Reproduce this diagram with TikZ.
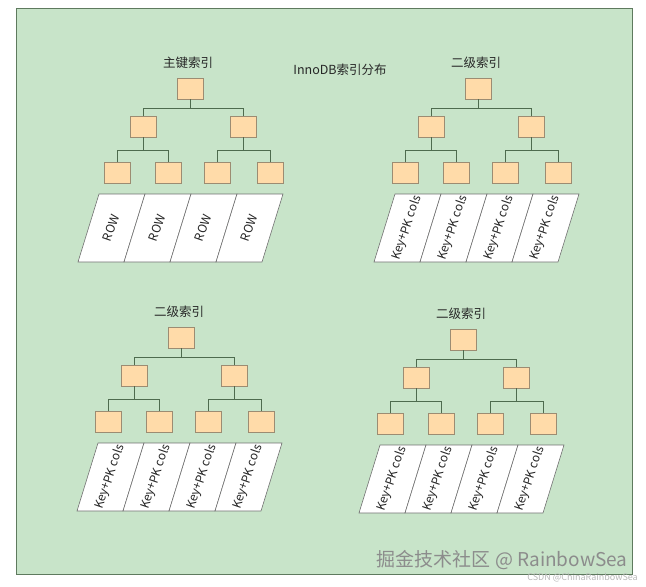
\documentclass[tikz,border=0pt]{standalone}
\usepackage{fontspec}
\setmainfont{Noto Sans CJK SC}
\usepackage{tikz}

\definecolor{bggreen}{HTML}{C8E4C9}
\definecolor{bgline}{HTML}{5E7A5E}
\definecolor{pagefill}{HTML}{FFDBA9}
\definecolor{pageline}{HTML}{9C8C72}
\definecolor{linkgreen}{HTML}{4E6B4E}
\definecolor{rowline}{HTML}{707070}

\tikzset{
  page/.style={draw=pageline,fill=pagefill,line width=0.8pt,minimum width=26pt,minimum height=21pt,inner sep=0pt},
  link/.style={draw=linkgreen,line width=0.9pt},
  cellrow/.style={draw=rowline,fill=white,line width=0.6pt},
  celltxt/.style={rotate=71,font=\fontsize{12}{14}\selectfont,text=black!85,inner sep=0pt},
  treetitle/.style={font=\fontsize{12.5}{15}\selectfont,text=black!85}
}

% one B+ tree: #1 prefix, #2 root x, #3 root top, #4 title, #5 cell text, #6 shift of the leaf strip
\newcommand{\idxtree}[6]{%
  \begin{scope}[shift={(#2,#3)}]
  \node[treetitle] (#1t) at (-2,-15) {#4};
  \node[page] (#1r) at (0,10.5) {};
  \node[page] (#1a) at (-47,48.5) {};
  \node[page] (#1b) at (53,48.5) {};
  \node[page] (#1c1) at (-73,94.5) {};
  \node[page] (#1c2) at (-22,94.5) {};
  \node[page] (#1c3) at (27,94.5) {};
  \node[page] (#1c4) at (80,94.5) {};
  \draw[link] (#1r.south) -- ++(0,9) -| (#1a.north);
  \draw[link] (#1r.south) -- ++(0,9) -| (#1b.north);
  \draw[link] (#1a.south) -- ++(0,13) -| (#1c1.north);
  \draw[link] (#1a.south) -- ++(0,13) -| (#1c2.north);
  \draw[link] (#1b.south) -- ++(0,13) -| (#1c3.north);
  \draw[link] (#1b.south) -- ++(0,13) -| (#1c4.north);
  \foreach \i in {0,...,3} {
    \draw[cellrow] ({-83+46*\i+#6},116) -- ++(46,0) -- ++(-21,68) -- ++(-46,0) -- cycle;
    \node[celltxt] (#1s\i) at ({-83+46*\i+#6+12},150) {#5};
  }
  \end{scope}}

\begin{document}
\begin{tikzpicture}[x=1pt,y=-1pt]
	\useasboundingbox (0,0) rectangle (646,587);
	\draw[bgline,fill=bggreen,line width=0.8pt] (16,8) rectangle (632,574);
	\node[treetitle] (title) at (340,70) {InnoDB索引分布};
	\idxtree{pk}{190}{78}{主键索引}{ROW}{-8}
	\idxtree{sa}{478}{78}{二级索引}{Key+PK cols}{0}
	\idxtree{sb}{181}{327}{二级索引}{Key+PK cols}{0}
	\idxtree{sc}{463}{329}{二级索引}{Key+PK cols}{0}
	\node[anchor=east,text=black!45,font=\fontsize{19}{22}\selectfont] (mark) at (631,560) {掘金技术社区 @ RainbowSea};
	\node[anchor=east,text=black!28,font=\fontsize{9}{11}\selectfont,inner sep=0pt] (csdn) at (638,578) {CSDN @ChinaRainbowSea};
\end{tikzpicture}
\end{document}
